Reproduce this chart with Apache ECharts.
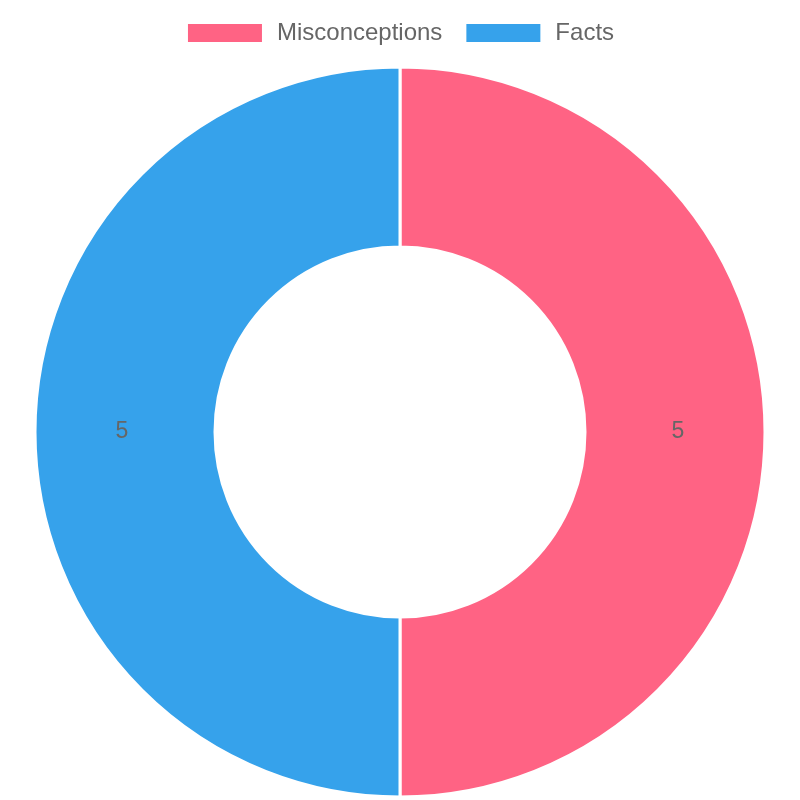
<!DOCTYPE html>
<html>
<head>
<meta charset="utf-8">
<script src="https://cdn.jsdelivr.net/npm/echarts@6/dist/echarts.min.js"></script>
<style>html,body{margin:0;padding:0;background:#fff}#c{width:800px;height:800px}</style>
</head>
<body>
<div id="c"></div>
<script>
const categories = ["Misconceptions", "Facts"];
const values = [5, 5];
const colors = ["#FF6384", "#36A2EB"];

const chart = echarts.init(document.getElementById('c'), null, {renderer: 'canvas'});
chart.setOption({
  animation: false,
  legend: {
    top: 16,
    left: 'center',
    itemWidth: 76,
    itemHeight: 20,
    itemGap: 22,
    icon: 'rect',
    textStyle: {fontFamily: 'Liberation Sans', fontSize: 24, color: '#666', padding: [0, 0, 0, 9]},
    data: categories
  },
  series: [{
    type: 'pie',
    center: [400, 432],
    radius: [185, 365],
    startAngle: 90,
    clockwise: true,
    label: {show: true, position: 'inside', formatter: '{c}', fontFamily: 'Liberation Sans', fontSize: 23, color: '#666'},
    labelLine: {show: false},
    itemStyle: {borderColor: '#fff', borderWidth: 3},
    emphasis: {disabled: true},
    data: categories.map((n, i) => ({name: n, value: values[i], itemStyle: {color: colors[i]}}))
  }]
});
</script>
</body>
</html>
